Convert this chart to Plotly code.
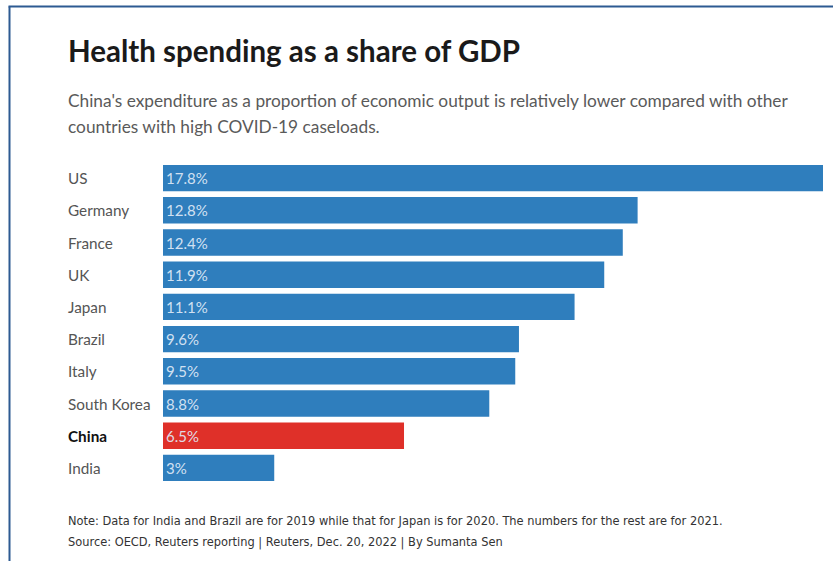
import plotly.graph_objects as go

# Health spending as a share of GDP, by country (%)
countries = ["US", "Germany", "France", "UK", "Japan", "Brazil", "Italy",
             "South Korea", "China", "India"]
shares = [17.8, 12.8, 12.4, 11.9, 11.1, 9.6, 9.5, 8.8, 6.5, 3.0]
value_labels = ["17.8%", "12.8%", "12.4%", "11.9%", "11.1%", "9.6%", "9.5%",
                "8.8%", "6.5%", "3%"]
highlight = "China"

title = "Health spending as a share of GDP"
subtitle_lines = [
    "China's expenditure as a proportion of economic output is relatively lower compared with other",
    "countries with high COVID-19 caseloads.",
]
note = ("Note: Data for India and Brazil are for 2019 while that for Japan is for 2020. "
        "The numbers for the rest are for 2021.")
source = "Source: OECD, Reuters reporting | Reuters, Dec. 20, 2022 | By Sumanta Sen"

BLUE = "#2f7ebd"
RED = "#df3029"
FONT = "Lato, 'Noto Sans', sans-serif"

W, H = 833, 561
PL, PR, PT, PB = 163, 823, 162, 484  # plot area in pixels


def px(x):
    return (x - PL) / (PR - PL)


def py(y):
    return (PB - y) / (PB - PT)


colors = [RED if c == highlight else BLUE for c in countries]

fig = go.Figure(go.Bar(
    x=shares,
    y=countries,
    orientation="h",
    marker=dict(color=colors, line=dict(width=0)),
    text=value_labels,
    textposition="inside",
    insidetextanchor="start",
    textfont=dict(family=FONT, size=15, color="rgba(225,236,248,0.92)"),
    textangle=0,
    cliponaxis=False,
    hoverinfo="skip",
))

annotations = []
# category labels, left aligned
for c in countries:
    bold = c == highlight
    annotations.append(dict(
        x=px(66), xref="paper", y=c, yref="y",
        text=f"<b>{c}</b>" if bold else c,
        showarrow=False, xanchor="left", yanchor="middle",
        font=dict(family=FONT, size=15.3, color="#111111" if bold else "#555555"),
    ))

annotations.append(dict(
    x=px(66), xref="paper", y=py(51), yref="paper",
    text=f"<b>{title}</b>", showarrow=False, xanchor="left", yanchor="middle",
    font=dict(family=FONT, size=29.5, color="#1a1a1a"),
))
for i, line in enumerate(subtitle_lines):
    annotations.append(dict(
        x=px(66), xref="paper", y=py(100 + 26.5 * i), yref="paper",
        text=line, showarrow=False, xanchor="left", yanchor="middle",
        font=dict(family=FONT, size=17.3, color="#5a5a5a"),
    ))
for i, line in enumerate([note, source]):
    annotations.append(dict(
        x=px(66), xref="paper", y=py(520 + 22 * i), yref="paper",
        text=line, showarrow=False, xanchor="left", yanchor="middle",
        font=dict(family="'Liberation Sans Narrow', 'DejaVu Sans Condensed', sans-serif",
                  size=12.7, color="#333333"),
    ))

shapes = [
    dict(type="line", xref="paper", yref="paper",
         x0=px(9.5), y0=py(W), x1=px(9.5), y1=py(6.5),
         line=dict(color="#2d5a92", width=2)),
    dict(type="line", xref="paper", yref="paper",
         x0=px(8.5), y0=py(6.5), x1=px(W + 5), y1=py(6.5),
         line=dict(color="#2d5a92", width=2)),
]

fig.update_layout(
    width=W, height=H,
    margin=dict(l=PL, r=W - PR, t=PT, b=H - PB, pad=0),
    paper_bgcolor="white", plot_bgcolor="white",
    showlegend=False,
    bargap=0.18,
    xaxis=dict(range=[0, max(shares)], visible=False, fixedrange=True),
    yaxis=dict(autorange="reversed", visible=False, fixedrange=True),
    annotations=annotations,
    shapes=shapes,
    uniformtext=dict(mode="show", minsize=8),
)

fig.write_html("out.html", config={"displayModeBar": False})
